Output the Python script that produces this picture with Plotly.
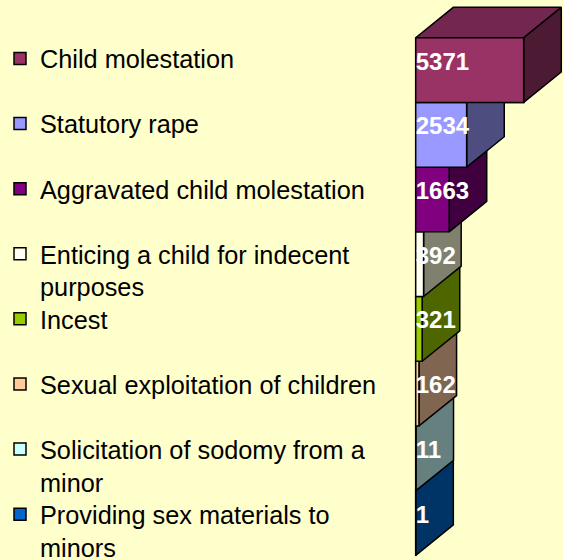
import plotly.graph_objects as go

# ---- data ----
categories = [
    "Child molestation",
    "Statutory rape",
    "Aggravated child molestation",
    "Enticing a child for indecent<br>purposes",
    "Incest",
    "Sexual exploitation of children",
    "Solicitation of sodomy from a<br>minor",
    "Providing sex materials to<br>minors",
]
values = [5371, 2534, 1663, 392, 321, 162, 11, 1]
front_colors = ["#993366", "#9999FF", "#800080", "#FFFFF0",
                "#99CC00", "#FFCC99", "#CCFFFF", "#0066CC"]
side_colors = ["#4D1A33", "#4D4D80", "#400040", "#80806F",
               "#4D6600", "#806650", "#668080", "#003366"]
top_colors = ["#73264F", "#7373BF", "#600060", "#BFBFB4",
              "#739900", "#BF9973", "#99BFBF", "#004C99"]

# ---- geometry (axis units) ----
DX = 1871      # depth offset along value axis
DY = -0.47     # depth offset along category axis
X_RANGE = [-20681, 7328]
Y_RANGE = [7.572, -1.083]
EDGE = dict(color="black", width=1.5)
FONT = "Liberation Sans, Arial, sans-serif"
W, H = 563, 560
LEG_TOP = 35.5      # px from top to first legend entry
LEG_STEP = 65.1     # px between legend entries

fig = go.Figure()
pos = list(range(len(values)))


def legend_id(k):
    return "legend" if k == 0 else "legend%d" % (k + 1)


# legend entries + base front faces
for i, (name, v, c) in enumerate(zip(categories, values, front_colors)):
    fig.add_trace(go.Bar(
        x=[v], y=[i], base=0, width=1, orientation="h", name=name,
        marker=dict(color=c, line=EDGE), hoverinfo="skip", showlegend=True,
        legend=legend_id(i),
    ))

# 3D faces painted bottom-most bar first
for i in reversed(pos):
    v = values[i]
    y0, y1 = i - 0.5, i + 0.5
    # top face
    fig.add_trace(go.Scatter(
        x=[0, v, v + DX, DX, 0], y=[y0, y0, y0 + DY, y0 + DY, y0],
        fill="toself", fillcolor=top_colors[i], mode="lines", line=EDGE,
        showlegend=False, hoverinfo="skip"))
    # side face
    fig.add_trace(go.Scatter(
        x=[v, v + DX, v + DX, v, v], y=[y0, y0 + DY, y1 + DY, y1, y0],
        fill="toself", fillcolor=side_colors[i], mode="lines", line=EDGE,
        showlegend=False, hoverinfo="skip"))
    # front face
    fig.add_trace(go.Scatter(
        x=[0, v, v, 0, 0], y=[y0, y0, y1, y1, y0],
        fill="toself", fillcolor=front_colors[i], mode="lines", line=EDGE,
        showlegend=False, hoverinfo="skip"))

# data labels
fig.add_trace(go.Scatter(
    x=[0] * len(values), y=[p - 0.1 for p in pos],
    text=["<b>%d</b>" % v for v in values], mode="text",
    textposition="middle right",
    textfont=dict(family=FONT, size=24, color="white"),
    showlegend=False, hoverinfo="skip"))

legends = {}
for k in pos:
    legends[legend_id(k)] = dict(
        x=0, y=1 - (LEG_TOP + k * LEG_STEP) / H,
        xanchor="left", yanchor="top",
        bgcolor="rgba(0,0,0,0)", valign="top",
        font=dict(family=FONT, size=25.3, color="black"),
        itemwidth=30,
    )

fig.update_layout(
    width=W, height=H,
    margin=dict(l=0, r=0, t=0, b=0, autoexpand=False),
    paper_bgcolor="#FFFFCC", plot_bgcolor="#FFFFCC",
    barmode="overlay",
    xaxis=dict(range=X_RANGE, visible=False, fixedrange=True),
    yaxis=dict(range=Y_RANGE, visible=False, fixedrange=True),
    showlegend=True,
    **legends,
)

fig.write_html(
    "out.html",
    config={"displayModeBar": False},
    post_script="document.body.style.margin='0px';"
                "document.body.style.background='#FFFFCC';",
)
